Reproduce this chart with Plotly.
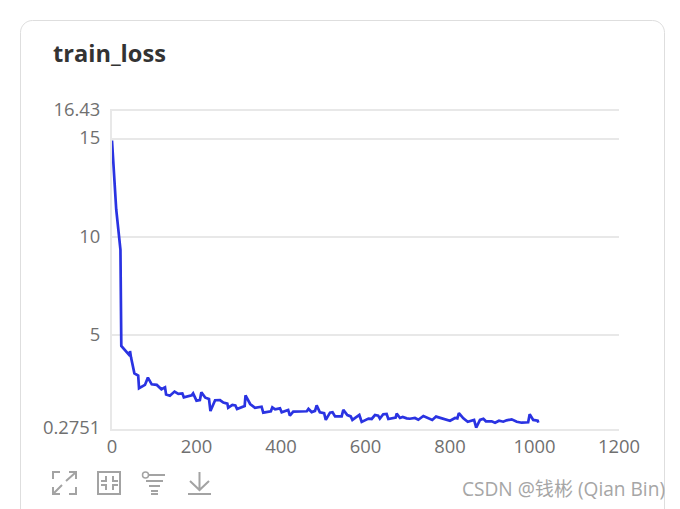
import math
import plotly.graph_objects as go

W, H = 680, 509
title = "train_loss"
watermark = "CSDN @钱彬 (Qian Bin)"

steps = [0, 10, 20, 22, 42.6, 42.6, 45, 53, 62, 64, 78, 85, 94, 106, 117, 125.5, 128, 137, 148, 157, 166.5, 170,
         188.6, 192, 200, 208, 211.5, 221, 229.6, 233, 244, 255.6, 263.5, 273, 275, 285, 292, 296, 314, 316, 327,
         338.5, 354, 358, 376, 379.5, 386, 397.6, 401.6, 417, 421, 429, 461, 465, 472.6, 480.5, 484.4, 492, 502,
         506, 516, 522, 528, 543.6, 547.5, 557, 565, 569, 585.4, 591, 607, 614.6, 622.5, 630, 634, 642, 650, 654,
         671.4, 673.8, 681.7, 688, 697.5, 705, 717, 725, 737, 749, 758, 767, 784, 800, 812, 817.4, 821, 831.6,
         842, 857, 862, 871, 879, 885, 898.7, 906.6, 916, 926, 934, 946, 958, 969.7, 985, 988.6, 997, 1007.5, 1009]
loss = [14.9, 11.4, 9.35, 4.47, 3.96, 4.21, 3.89, 3.08, 2.96, 2.32, 2.49, 2.86, 2.52, 2.49, 2.27, 2.37, 2.0, 1.94,
        2.15, 2.03, 2.06, 1.86, 1.96, 2.06, 1.69, 1.72, 2.11, 1.84, 1.77, 1.16, 1.71, 1.72, 1.59, 1.54, 1.33, 1.47,
        1.45, 1.26, 1.42, 1.96, 1.52, 1.33, 1.38, 1.08, 1.15, 1.35, 1.25, 1.3, 1.1, 1.22, 0.93, 1.13, 1.15, 1.27,
        1.11, 1.17, 1.45, 1.1, 1.05, 0.71, 1.08, 1.1, 0.89, 0.89, 1.22, 0.96, 0.89, 0.71, 0.96, 0.61, 0.78, 0.76,
        0.96, 0.93, 0.78, 1.0, 1.01, 0.76, 0.83, 1.03, 0.81, 0.86, 0.79, 0.77, 0.81, 0.72, 0.91, 0.79, 0.71, 0.88,
        0.79, 0.67, 0.81, 0.79, 1.06, 0.79, 0.62, 0.71, 0.32, 0.71, 0.77, 0.64, 0.64, 0.57, 0.67, 0.62, 0.69, 0.74,
        0.62, 0.57, 0.59, 1.0, 0.71, 0.67, 0.57]
y_ticks = [0.2751, 5, 10, 15, 16.43]
y_labels = ["0.2751", "5", "10", "15", "16.43"]
x_ticks = [0, 200, 400, 600, 800, 1000, 1200]

GRID = "#e8e8e8"
TEXT = "#707070"
ICON = "#a3a3a3"
TICK_FONT = dict(size=18.4, color=TEXT, family="Open Sans")


def path(d):
    # d: list of pixel-space subpaths (points from the page's top-left corner)
    out = []
    for sub in d:
        closed = sub[-1] == "Z"
        pts = [p for p in sub if p != "Z"]
        s = "M" + " L".join(f"{x / W:.5f},{1 - y / H:.5f}" for x, y in pts)
        out.append(s + (" Z" if closed else ""))
    return " ".join(out)


def icon(d, width=2, color=ICON):
    return dict(type="path", xref="paper", yref="paper", path=path(d),
                line=dict(color=color, width=width), layer="above")


# card outline, open at the bottom of the page
r = 12
n = 8
left_corner = [(20.5 + r - r * math.cos(i * math.pi / 2 / n), 20.5 + r - r * math.sin(i * math.pi / 2 / n)) for i in range(n + 1)]
right_corner = [(664.5 - r + r * math.sin(i * math.pi / 2 / n), 20.5 + r - r * math.cos(i * math.pi / 2 / n)) for i in range(n + 1)]
card = [(20.5, 515)] + left_corner + right_corner + [(664.5, 515)]

shapes = [
    icon([card], width=1, color="#dedede"),
    # expand icon
    icon([[(53, 479), (53, 472), (60, 472)], [(69, 472), (76, 472), (76, 479)],
          [(53, 487), (53, 494), (60, 494)], [(69, 494), (76, 494), (76, 487)],
          [(62, 485), (54, 493)], [(66, 481), (75, 473)]]),
    # shrink icon
    icon([[(98, 472), (120, 472), (120, 494), (98, 494), "Z"],
          [(106, 476), (106, 481), (101, 481)], [(113, 476), (113, 481), (118, 481)],
          [(106, 490), (106, 485), (101, 485)], [(113, 490), (113, 485), (118, 485)]]),
    # filter icon
    icon([[(148, 475), (165, 475)], [(146, 481), (163, 481)], [(149, 486), (160, 486)],
          [(151, 491), (158, 491)], [(151, 494), (158, 494)]]),
    dict(type="circle", xref="paper", yref="paper", x0=142.5 / W, x1=148.5 / W,
         y0=1 - 478 / H, y1=1 - 472 / H, line=dict(color=ICON, width=1.5)),
    # download icon
    icon([[(188, 494), (211, 494)], [(199.5, 472), (199.5, 490)], [(190, 481), (199.5, 490), (209, 481)]]),
]

fig = go.Figure(go.Scatter(x=steps, y=loss, mode="lines",
                           line=dict(color="#2a33e2", width=2.7), hoverinfo="skip"))

fig.update_layout(
    width=W, height=H, autosize=False,
    margin=dict(l=0, r=0, t=0, b=0, autoexpand=False),
    paper_bgcolor="white", plot_bgcolor="white",
    showlegend=False,
    font=dict(family="Open Sans", color=TEXT, size=18),
    xaxis=dict(domain=[112 / W, 619 / W], range=[0, 1200], tickvals=x_ticks, ticktext=[str(v) for v in x_ticks],
               showgrid=False, zeroline=False, showline=True, mirror=True, linecolor=GRID, linewidth=2, ticks="",
               tickfont=TICK_FONT, automargin=False),
    yaxis=dict(domain=[1 - 428.5 / H, 1 - 110.5 / H], range=[0.2751, 16.43], tickvals=y_ticks, ticktext=y_labels,
               showgrid=True, gridcolor=GRID, gridwidth=2, zeroline=False, showline=True, linecolor=GRID, linewidth=2,
               ticks="", ticklabelstandoff=6, ticklabelshift=-1, tickfont=TICK_FONT, automargin=False),
    shapes=shapes,
    annotations=[
        dict(text=f"<b>{title}</b>", xref="paper", yref="paper", x=51 / W, y=1 - 53 / H, xanchor="left", yanchor="middle",
             showarrow=False, font=dict(family="Open Sans", size=23.6, color="#333333")),
        dict(text=watermark, xref="paper", yref="paper", x=667 / W, y=1 - 489 / H, xanchor="right", yanchor="middle",
             showarrow=False, font=dict(family="Open Sans, Noto Sans CJK SC", size=19.1, color="#a6a6a6")),
    ],
)
fig.write_html("out.html", config=dict(displayModeBar=False),
               post_script="document.body.style.margin='0';document.body.style.overflow='hidden';")
